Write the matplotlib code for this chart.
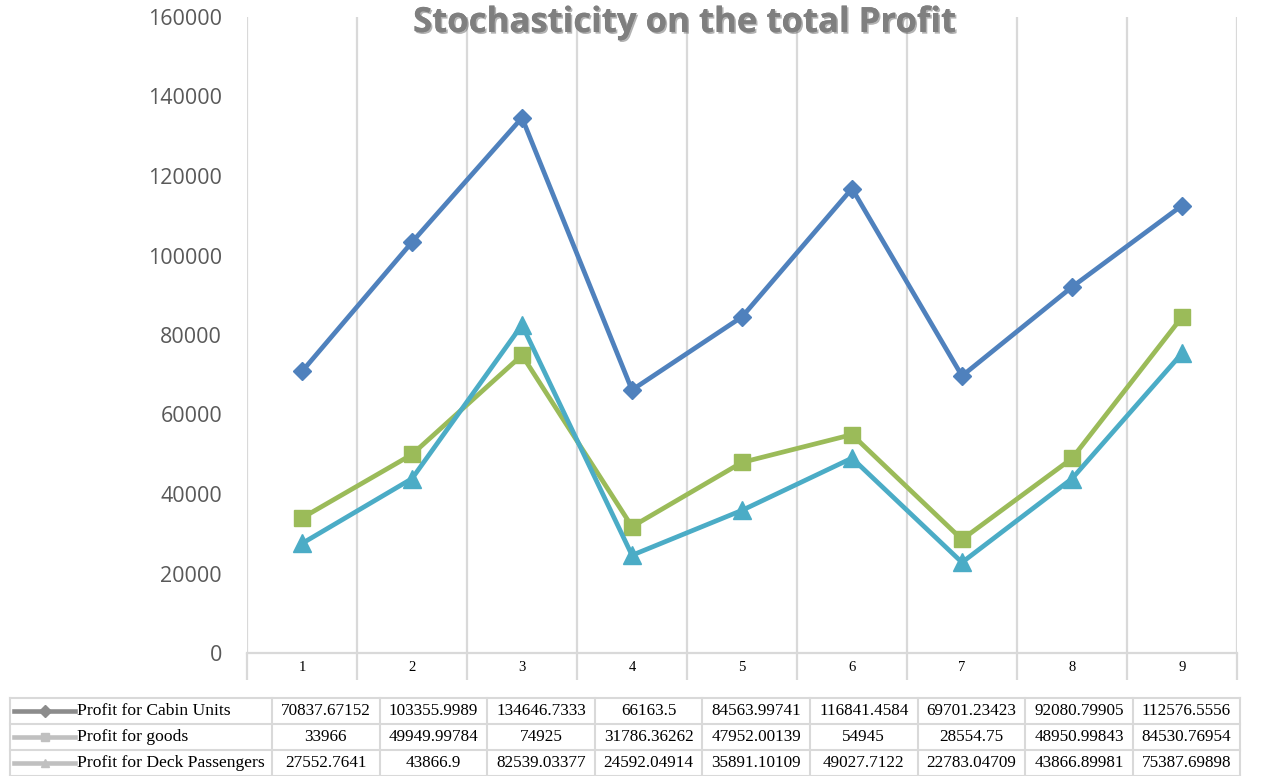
import matplotlib.pyplot as plt
import matplotlib.patheffects as pe
from matplotlib.lines import Line2D

# data
runs = [1, 2, 3, 4, 5, 6, 7, 8, 9]
cabin = [70837.67152, 103355.9989, 134646.7333, 66163.5, 84563.99741,
         116841.4584, 69701.23423, 92080.79905, 112576.5556]
goods = [33966, 49949.99784, 74925, 31786.36262, 47952.00139,
         54945, 28554.75, 48950.99843, 84530.76954]
deck = [27552.7641, 43866.9, 82539.03377, 24592.04914, 35891.10109,
        49027.7122, 22783.04709, 43866.89981, 75387.69898]
names = ["Profit for Cabin Units", "Profit for goods", "Profit for Deck Passengers"]

W, H = 1268, 776
fig = plt.figure(figsize=(W / 100, H / 100), dpi=100)
ax = fig.add_axes([247 / W, 1 - 653 / H, 990 / W, 636 / H])

grid_col = "#d9d9d9"
ax.plot(runs, cabin, color="#4f81bd", lw=3.4, marker="D", ms=9, zorder=3)
ax.plot(runs, goods, color="#9bbb59", lw=3.4, marker="s", ms=12, zorder=3)
ax.plot(runs, deck, color="#4bacc6", lw=3.4, marker="^", ms=13, zorder=3)

ax.set_xlim(0.5, 9.5)
ax.set_ylim(0, 160000)
ax.set_yticks(range(0, 160001, 20000))
ax.set_xticks(runs)
ax.set_xticks([i + 0.5 for i in range(0, 10)], minor=True)
ax.grid(axis="x", which="minor", color=grid_col, lw=1.6)
ax.tick_params(axis="x", which="major", length=0, pad=6, labelsize=10.5)
ax.tick_params(axis="x", which="minor", length=19.5, width=1.6, color=grid_col)
ax.tick_params(axis="y", length=0, pad=18, labelsize=15.5, labelcolor="#595959")
for lab in ax.get_yticklabels():
    lab.set_family("Open Sans")
for lab in ax.get_xticklabels():
    lab.set_family("Liberation Serif")
for s in ["left", "right", "top"]:
    ax.spines[s].set_visible(False)
ax.spines["bottom"].set_color(grid_col)
ax.spines["bottom"].set_linewidth(1.6)

fig.text(684 / W, 1 - 23 / H, "Stochasticity on the total Profit", ha="center", va="center",
         fontsize=25, fontweight="bold", family="Open Sans", color="#7f7f7f",
         path_effects=[pe.withSimplePatchShadow(offset=(1.2, -1.2), shadow_rgbFace="#404040", alpha=0.4),
                       pe.Normal()])

# data table below the chart
xs = [10, 272] + [272 + 107.6 * (i + 1) for i in range(9)]
ys = [698, 724, 750, 776]
for x in xs:
    fig.add_artist(Line2D([x / W, x / W], [1 - ys[0] / H, 1 - ys[-1] / H], color=grid_col, lw=1.5))
for y in ys:
    fig.add_artist(Line2D([xs[0] / W, xs[-1] / W], [1 - y / H, 1 - y / H], color=grid_col, lw=1.5))

key_cols = ["#8c8c8c", "#c0c0c0", "#c0c0c0"]
key_marks = ["D", "s", "^"]
for r, (name, vals) in enumerate(zip(names, [cabin, goods, deck])):
    yc = 1 - (ys[r] + ys[r + 1]) / 2 / H
    fig.add_artist(Line2D([14 / W, 75 / W], [yc, yc], color=key_cols[r], lw=3.3))
    fig.add_artist(Line2D([45 / W], [yc], color=key_cols[r], marker=key_marks[r], ms=6, lw=0))
    fig.text(77 / W, yc, name, ha="left", va="center", fontsize=12.6, family="Liberation Serif")
    for c, v in enumerate(vals):
        xc = (xs[c + 1] + xs[c + 2]) / 2 / W
        fig.text(xc, yc, "{:.10g}".format(v), ha="center", va="center",
                 fontsize=12.3, family="Liberation Serif")

fig.savefig("out.png", dpi=100)
